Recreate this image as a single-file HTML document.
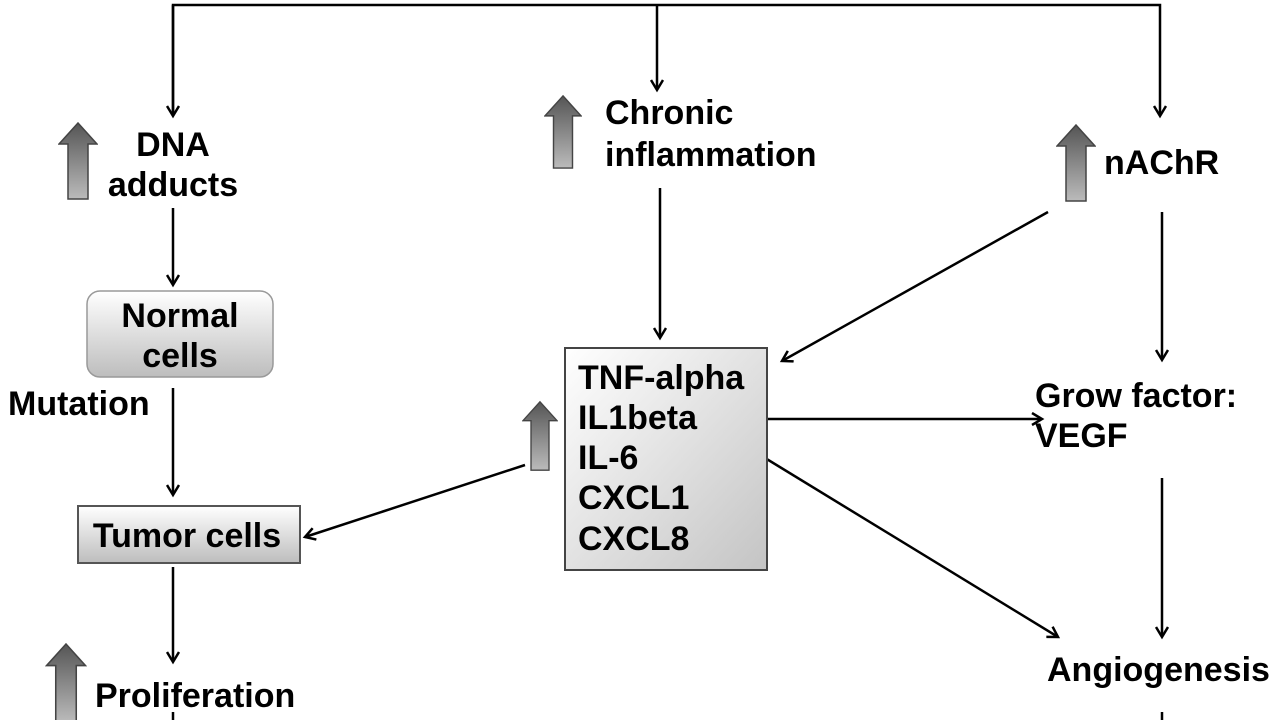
<!DOCTYPE html>
<html><head><meta charset="utf-8"><style>
html,body{margin:0;padding:0;background:#fff;}
svg{display:block}
text{font-family:"Liberation Sans",Arial,sans-serif;font-weight:bold;font-size:34px;fill:#000}
</style></head><body>
<svg width="1280" height="720" viewBox="0 0 1280 720" xmlns="http://www.w3.org/2000/svg">
<defs>
<linearGradient id="ug" x1="0" y1="0" x2="0" y2="1"><stop offset="0" stop-color="#555"/><stop offset="1" stop-color="#bbb"/></linearGradient>
<linearGradient id="bg" x1="0" y1="0" x2="0" y2="1"><stop offset="0" stop-color="#fff"/><stop offset="1" stop-color="#bdbdbd"/></linearGradient>
<linearGradient id="cg" x1="0" y1="0" x2="1" y2="1"><stop offset="0" stop-color="#fff"/><stop offset="1" stop-color="#c4c4c4"/></linearGradient>
<marker id="ah" markerWidth="14" markerHeight="14" refX="11" refY="7" orient="auto" markerUnits="userSpaceOnUse"><path d="M1,1 L11,7 L1,13" fill="none" stroke="#000" stroke-width="2.5"/></marker>
<symbol id="up" viewBox="0 0 40 78"><path d="M20,1 L39,22 L30,22 L30,77 L10,77 L10,22 L1,22 Z" fill="url(#ug)" stroke="#444" stroke-width="1.5"/></symbol>
</defs>
<g stroke="#000" stroke-width="2.5" fill="none">
<polyline points="173,116 173,5 1160,5 1160,116" marker-end="url(#ah)"/>
<path d="M173,5 L173,116" marker-end="url(#ah)"/>
<path d="M657,5 L657,90" marker-end="url(#ah)"/>
<path d="M173,208 L173,285" marker-end="url(#ah)"/>
<path d="M173,388 L173,495" marker-end="url(#ah)"/>
<path d="M173,567 L173,662" marker-end="url(#ah)"/>
<path d="M660,188 L660,338" marker-end="url(#ah)"/>
<path d="M1048,212 L782,361" marker-end="url(#ah)"/>
<path d="M1162,212 L1162,360" marker-end="url(#ah)"/>
<path d="M768,419 L1042,419" marker-end="url(#ah)"/>
<path d="M752,450 L1058,637" marker-end="url(#ah)"/>
<path d="M1162,478 L1162,637" marker-end="url(#ah)"/>
<path d="M525,465 L305,537" marker-end="url(#ah)"/>
<path d="M173,712 L173,720"/>
<path d="M1162,712 L1162,720"/>
</g>
<use href="#up" x="58" y="122" width="40" height="78"/>
<use href="#up" x="544" y="94" width="38" height="76"/>
<use href="#up" x="1056" y="124" width="40" height="78"/>
<use href="#up" x="522" y="398" width="36" height="76"/>
<use href="#up" x="45" y="643" width="42" height="80"/>
<rect x="87" y="291" width="186" height="86" rx="13" fill="url(#bg)" stroke="#999" stroke-width="1.5"/>
<rect x="78" y="506" width="222" height="57" fill="url(#bg)" stroke="#555" stroke-width="2"/>
<rect x="565" y="348" width="202" height="222" fill="url(#cg)" stroke="#444" stroke-width="2"/>
<text x="173" y="156" text-anchor="middle">DNA</text>
<text x="173" y="196" text-anchor="middle">adducts</text>
<text x="605" y="124">Chronic</text>
<text x="605" y="166">inflammation</text>
<text x="1104" y="174">nAChR</text>
<text x="180" y="327" text-anchor="middle">Normal</text>
<text x="180" y="367" text-anchor="middle">cells</text>
<text x="8" y="415">Mutation</text>
<text x="187" y="547" text-anchor="middle">Tumor cells</text>
<text x="95" y="707">Proliferation</text>
<text x="578" y="389">TNF-alpha</text>
<text x="578" y="429">IL1beta</text>
<text x="578" y="469">IL-6</text>
<text x="578" y="509">CXCL1</text>
<text x="578" y="550">CXCL8</text>
<text x="1035" y="407">Grow factor:</text>
<text x="1035" y="447">VEGF</text>
<text x="1047" y="681">Angiogenesis</text>
</svg>
</body></html>
